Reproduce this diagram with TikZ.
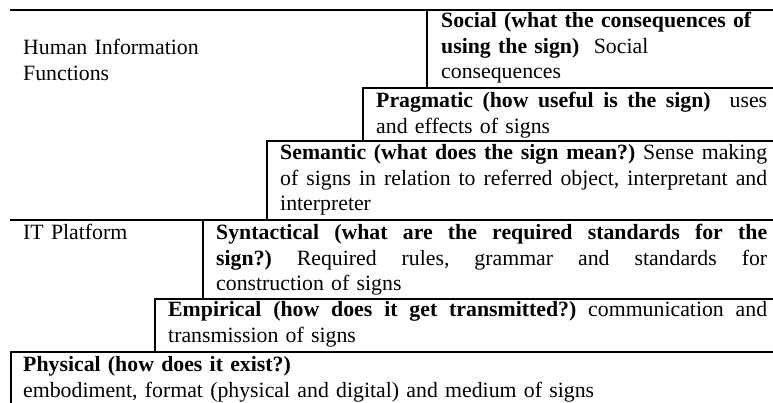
\documentclass[tikz,border=0pt]{standalone}
\usepackage{fontspec}
\setmainfont{Liberation Serif}
\frenchspacing
\newcommand{\jl}[2]{\makebox[#1][s]{\spaceskip=.25em plus 1em minus .05em\relax
  \xspaceskip=\spaceskip #2}}
\tikzset{
  rule/.style={line width=1.2pt, line cap=rect},
  cell/.style={anchor=base west, inner sep=0pt, align=left,
    font=\fontsize{21.8}{25.5}\selectfont}
}
\begin{document}
\begin{tikzpicture}[x=1pt,y=1pt]
\useasboundingbox (0,0) rectangle (773,403);
% rules
\draw[rule] (11,393) -- (772,393);
\draw[rule] (427,393) -- (427,315);
\draw[rule] (363,315) -- (772,315);
\draw[rule] (363,315) -- (363,262);
\draw[rule] (267,262) -- (772,262);
\draw[rule] (267,262) -- (267,183);
\draw[rule] (11,183) -- (772,183);
\draw[rule] (203,183) -- (203,104);
\draw[rule] (155,104) -- (772,104);
\draw[rule] (155,104) -- (155,51);
\draw[rule] (11,51) -- (772,51);
\draw[rule] (11,51) -- (11,0);
% texts
\node[cell, text width=300pt] (human) at (23,348) {Human Information\\Functions};
\node[cell, text width=327pt] (social) at (441,375)
  {\textbf{Social (what the consequences of}\\\textbf{using the sign)}\ \ Social\\consequences};
\node[cell, text width=392pt] (prag) at (376,295)
  {\jl{391pt}{\textbf{Pragmatic (how useful is the sign)}\ \ uses}\\and effects of signs};
\node[cell, text width=488pt] (sem) at (280,243)
  {\jl{487pt}{\textbf{Semantic (what does the sign mean?)} Sense making}\\
   \jl{487pt}{of signs in relation to referred object, interpretant and}\\interpreter};
\node[cell, text width=170pt] (itp) at (23,163) {IT Platform};
\node[cell, text width=552pt] (syn) at (216,163)
  {\jl{551pt}{\textbf{Syntactical (what are the required standards for the}}\\
   \jl{551pt}{\textbf{sign?)} Required rules, grammar and standards for}\\construction of signs};
\node[cell, text width=600pt] (emp) at (168,86)
  {\jl{599pt}{\textbf{Empirical (how does it get transmitted?)} communication and}\\transmission of signs};
\node[cell, text width=745pt] (phys) at (23,31)
  {\textbf{Physical (how does it exist?)}\\embodiment, format (physical and digital) and medium of signs};
\end{tikzpicture}
\end{document}
